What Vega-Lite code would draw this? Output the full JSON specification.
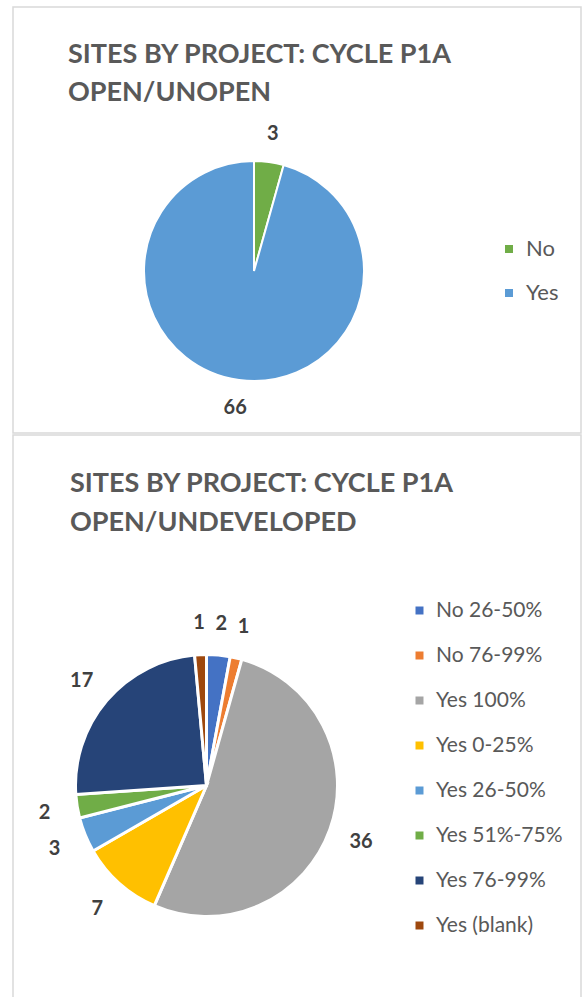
{
  "$schema": "https://vega.github.io/schema/vega-lite/v6.json",
  "padding": {"left": 12, "top": 6, "right": 0, "bottom": 0},
  "background": "white",
  "spacing": 0,
  "config": {
    "view": {"stroke": "#D9D9D9", "strokeWidth": 1.5},
    "font": "Lato",
    "title": {"font": "Lato", "fontSize": 27, "fontWeight": "bold", "color": "#595959", "anchor": "start", "frame": "group", "lineHeight": 38},
    "legend": {"orient": "none", "title": null, "symbolType": "square", "symbolSize": 90, "labelFontSize": 21, "labelColor": "#595959", "labelFont": "Lato", "rowPadding": 23, "labelOffset": 6}
  },
  "resolve": {"scale": {"color": "independent", "theta": "independent"}, "legend": {"color": "independent"}},
  "vconcat": [
    {
      "width": 568,
      "height": 426,
      "view": {"stroke": "#D9D9D9", "strokeWidth": 1.5, "fill": "white"},
      "title": {"text": ["SITES BY PROJECT: CYCLE P1A", "OPEN/UNOPEN"], "offset": -100, "dx": 55},
      "data": {"values": [
        {"status": "No", "count": 3, "idx": 1},
        {"status": "Yes", "count": 66, "idx": 2}
      ]},
      "encoding": {
        "theta": {"field": "count", "type": "quantitative", "stack": true},
        "order": {"field": "idx", "type": "quantitative"}
      },
      "layer": [
        {
          "mark": {"type": "arc", "x": 241, "y": 264, "outerRadius": 110, "stroke": "white", "strokeWidth": 2},
          "encoding": {
            "color": {"field": "status", "type": "nominal", "sort": null,
              "scale": {"domain": ["No", "Yes"], "range": ["#70AD47", "#5B9BD5"]},
              "legend": {"legendX": 485, "legendY": 231, "labelFontSize": 22, "rowPadding": 22}}
          }
        },
        {
          "mark": {"type": "text", "x": 241, "y": 264, "radius": 138, "font": "Lato", "fontWeight": "bold", "fontSize": 20, "fill": "#404040"},
          "encoding": {"text": {"field": "count", "type": "quantitative"}}
        }
      ]
    },
    {
      "width": 568,
      "height": 563,
      "view": {"stroke": "#D9D9D9", "strokeWidth": 1.5, "fill": "white"},
      "title": {"text": ["SITES BY PROJECT: CYCLE P1A", "OPEN/UNDEVELOPED"], "offset": -102, "dx": 57, "lineHeight": 39},
      "data": {"values": [
        {"category": "No 26-50%", "count": 2, "idx": 1},
        {"category": "No 76-99%", "count": 1, "idx": 2},
        {"category": "Yes 100%", "count": 36, "idx": 3},
        {"category": "Yes 0-25%", "count": 7, "idx": 4},
        {"category": "Yes 26-50%", "count": 3, "idx": 5},
        {"category": "Yes 51%-75%", "count": 2, "idx": 6},
        {"category": "Yes 76-99%", "count": 17, "idx": 7},
        {"category": "Yes (blank)", "count": 1, "idx": 8}
      ]},
      "encoding": {
        "theta": {"field": "count", "type": "quantitative", "stack": true},
        "order": {"field": "idx", "type": "quantitative"}
      },
      "layer": [
        {
          "mark": {"type": "arc", "x": 193.5, "y": 350.5, "outerRadius": 131, "stroke": "white", "strokeWidth": 3},
          "encoding": {
            "color": {"field": "category", "type": "nominal", "sort": null,
              "scale": {"domain": ["No 26-50%", "No 76-99%", "Yes 100%", "Yes 0-25%", "Yes 26-50%", "Yes 51%-75%", "Yes 76-99%", "Yes (blank)"],
                        "range": ["#4472C4", "#ED7D31", "#A5A5A5", "#FFC000", "#5B9BD5", "#70AD47", "#264478", "#9E480E"]},
              "legend": {"legendX": 396, "legendY": 165}}
          }
        },
        {
          "mark": {"type": "text", "x": 193.5, "y": 352, "radius": 164, "font": "Lato", "fontWeight": "bold", "fontSize": 20, "fill": "#404040"},
          "encoding": {"text": {"field": "count", "type": "quantitative"}}
        }
      ]
    }
  ]
}
